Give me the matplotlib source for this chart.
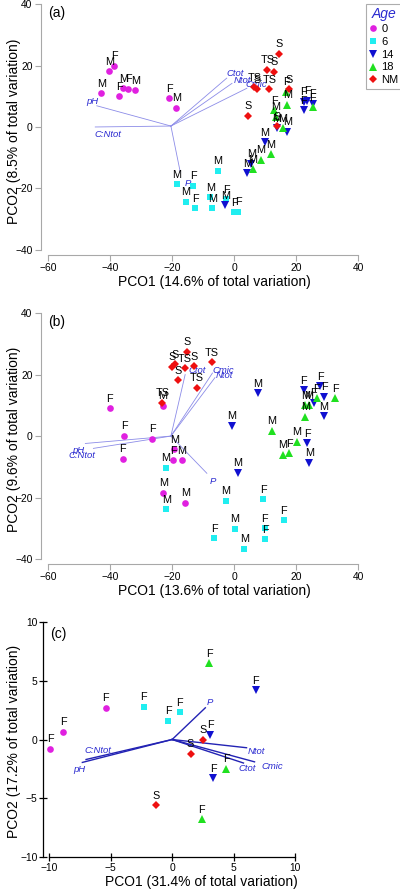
import matplotlib
matplotlib.use("Agg")
import matplotlib.pyplot as plt
from matplotlib.lines import Line2D

plt.rcParams['font.family'] = ['Liberation Sans', 'DejaVu Sans']

# ---- panel (a) ----
x0a = [-42.9, -40.3, -38.7, -37.1, -35.8, -34.2, -31.9, -21.0, -18.7]
y0a = [11.0, 18.2, 19.9, 10.1, 12.7, 12.4, 12.0, 9.4, 6.2]
l0a = ['M', 'M', 'F', 'F', 'M', 'F', 'M', 'F', 'M']
x6a = [-18.4, -13.2, -15.5, -12.6, -5.2, -7.7, -7.1, -2.6, 0.0, 1.4]
y6a = [-18.6, -19.2, -24.4, -26.4, -14.3, -22.9, -26.5, -23.5, -27.8, -27.6]
l6a = ['M', 'F', 'M', 'F', 'M', 'M', 'M', 'F', 'F', 'F']
x14a = [-2.9, 4.2, 5.5, 9.8, 17.2, 13.8, 22.4, 23.6, 22.4, 25.3]
y14a = [-25.4, -15.0, -12.0, -5.0, -1.5, -0.4, 8.2, 8.5, 5.5, 7.5]
l14a = ['M', 'M', 'M', 'M', 'M', 'M', 'F', 'F', 'F', 'F']
x18a = [6.1, 8.7, 11.9, 12.9, 13.5, 15.6, 16.8, 17.2, 25.3]
y18a = [-13.7, -10.7, -8.8, 5.5, 3.4, -0.4, 11.5, 7.2, 6.4]
l18a = ['M', 'M', 'M', 'F', 'M', 'M', 'F', 'M', 'F']
xNMa = [14.5, 10.7, 12.9, 6.5, 7.3, 11.4, 17.8, 4.6, 13.8]
yNMa = [23.8, 18.6, 18.0, 12.9, 12.3, 12.3, 12.3, 3.6, 0.3]
lNMa = ['S', 'TS', 'S', 'TS', 'S', 'TS', 'S', 'S', 'S']

vec_names = ['pH', 'C:Ntot', 'P', 'Ctot', 'Ntot', 'Cmic']
vec_orig_a = (-20.4, 0.3)
vec_x_a = [-44.3, -44.8, -17.4, -2.4, -0.7, 4.1]
vec_y_a = [6.9, 0.0, -14.6, 15.9, 14.2, 12.6]

# ---- panel (b) ----
x0b = [-40.2, -23.0, -35.5, -26.5, -35.9, -19.3, -19.6, -16.9, -22.8, -15.8]
y0b = [9.0, 9.8, 0.1, -0.8, -7.3, -4.2, -7.8, -7.8, -18.4, -21.7]
l0b = ['F', 'M', 'F', 'F', 'F', 'M', 'F', 'M', 'M', 'M']
x6b = [-22.0, -21.9, -2.7, -6.5, 0.3, 3.3, 9.4, 9.8, 10.0, 16.0]
y6b = [-10.3, -23.7, -21.0, -33.3, -30.1, -36.6, -20.5, -30.0, -33.6, -27.3]
l6b = ['M', 'M', 'M', 'F', 'M', 'M', 'F', 'F', 'F', 'F']
x14b = [7.6, -0.7, 1.2, 23.6, 24.3, 22.4, 27.7, 29.0, 25.6, 29.0]
y14b = [13.9, 3.3, -11.9, -2.4, -8.7, 15.0, 16.3, 12.8, 10.8, 6.5]
l14b = ['M', 'M', 'M', 'F', 'M', 'F', 'F', 'F', 'F', 'M']
x18b = [12.2, 20.3, 15.7, 17.8, 32.6, 22.9, 24.0, 26.7, 22.9]
y18b = [1.7, -1.9, -6.0, -5.6, 12.3, 10.1, 10.1, 12.3, 6.3]
l18b = ['M', 'M', 'M', 'F', 'F', 'M', 'M', 'F', 'M']
xNMb = [-23.2, -18.0, -15.3, -16.0, -20.1, -19.0, -12.8, -7.2, -12.0]
yNMb = [10.8, 18.2, 27.4, 22.0, 22.5, 23.4, 22.8, 24.0, 15.7]
lNMb = ['TS', 'S', 'S', 'TS', 'S', 'S', 'S', 'TS', 'TS']

vec_orig_b = (-20.4, 0.0)
vec_x_b = [-48.0, -45.4, -8.8, -15.8, -6.2, -7.0]
vec_y_b = [-2.4, -4.0, -12.1, 20.0, 19.0, 20.5]

# ---- panel (c) ----
x0c = [-5.4, -8.85, -9.9]
y0c = [2.7, 0.66, -0.8]
l0c = ['F', 'F', 'F']
x6c = [-2.3, -0.3, 0.6]
y6c = [2.8, 1.6, 2.3]
l6c = ['F', 'F', 'F']
x14c = [6.8, 3.1, 3.35]
y14c = [4.2, 0.4, -3.3]
l14c = ['F', 'F', 'F']
x18c = [3.0, 4.4, 2.4]
y18c = [6.5, -2.5, -6.8]
l18c = ['F', 'F', 'F']
xNMc = [2.5, 1.5, -1.3]
yNMc = [0.0, -1.2, -5.6]
lNMc = ['S', 'S', 'S']

vec_orig_c = (0.0, 0.0)
vec_x_c = [-7.3, -7.0, 2.7, 5.8, 6.05, 6.7]
vec_y_c = [-1.95, -1.7, 2.7, -2.0, -0.7, -1.9]

ages = ['0', '6', '14', '18', 'NM']
colors = ['#e020e0', '#20eef0', '#1010d0', '#20e020', '#ee1010']
markers = ['o', 's', 'v', '^', 'D']
msizes = [4.8, 4.4, 5.2, 5.2, 4.0]

# label offsets (points) for vector names, per panel
off_a = {'pH': (-3, 3.4), 'C:Ntot': (9.4, -5.3), 'P': (5.8, -8.1),
         'Ctot': (6, 3.1), 'Ntot': (7.3, 2.4), 'Cmic': (6.7, 2.4)}
off_b = {'pH': (-5, -4.8), 'C:Ntot': (-8.1, -5.3), 'P': (4.5, -5.6),
         'Ctot': (8.4, 2.7), 'Ntot': (6.6, 1.2), 'Cmic': (7.5, 1.7)}
off_c = {'pH': (-2.4, -5.0), 'C:Ntot': (8.7, 6.3), 'P': (3.5, 3.5),
         'Ctot': (2.4, -4.0), 'Ntot': (7.4, -2.9), 'Cmic': (13.0, -3.0)}

W, H = 400, 890
fig = plt.figure(figsize=(W / 100, H / 100), dpi=100)


def add_axes(left, bottom, width, height):
    return fig.add_axes([left / W, (H - bottom) / H, width / W, height / H])


def draw_panel(ax, groups, orig, vx, vy, offs, vcolor, vlw, tag, tagpos):
    ox, oy = orig
    for name, ex, ey in zip(vec_names, vx, vy):
        ax.plot([ox, ex], [oy, ey], color=vcolor, lw=vlw, zorder=1)
        dx, dy = offs[name]
        ax.annotate(name, (ex, ey), xytext=(dx, dy), textcoords='offset points',
                    ha='center', va='center', fontsize=6.8, style='italic',
                    color='#2a2ad0', zorder=2)
    for i, (gx, gy, gl) in enumerate(groups):
        ax.plot(gx, gy, linestyle='none', marker=markers[i], color=colors[i],
                markersize=msizes[i], markeredgewidth=0, zorder=3)
        for x, y, t in zip(gx, gy, gl):
            ax.annotate(t, (x, y), xytext=(0, 3.2), textcoords='offset points',
                        ha='center', va='bottom', fontsize=7.8, zorder=4)
    ax.text(tagpos[0], tagpos[1], tag, fontsize=10, ha='left', va='center')
    for s in ['top', 'right']:
        ax.spines[s].set_visible(False)


def style_ab(ax):
    ax.set_xlim(-62.3, 41.5)
    ax.set_xticks([-60, -40, -20, 0, 20, 40])
    ax.set_yticks([-40, -20, 0, 20, 40])
    ax.spines['left'].set_bounds(-40, 40)
    ax.spines['bottom'].set_bounds(-60, 40)
    for s in ['left', 'bottom']:
        ax.spines[s].set_color('#a8a8a8')
        ax.spines[s].set_linewidth(0.8)
    ax.tick_params(direction='out', length=4, width=0.8, color='#a8a8a8',
                   labelsize=7.4, pad=2)


# panel (a)
axa = add_axes(41, 255, 321.8, 253.3)
draw_panel(axa, [(x0a, y0a, l0a), (x6a, y6a, l6a), (x14a, y14a, l14a),
                 (x18a, y18a, l18a), (xNMa, yNMa, lNMa)],
           vec_orig_a, vec_x_a, vec_y_a, off_a, '#8c8ce8', 0.6, '(a)', (-60, 37))
style_ab(axa)
axa.set_ylim(-41.7, 40.8)
axa.set_xlabel('PCO1 (14.6% of total variation)', fontsize=10)
axa.set_ylabel('PCO2 (8.5% of total variation)', fontsize=10)
axa.xaxis.set_label_coords((214 - 41) / 321.8, -20 / 253.3)
axa.yaxis.set_label_coords((21 - 41) / 321.8, 0.49)

# panel (b)
axb = add_axes(41, 564, 321.8, 254.0)
draw_panel(axb, [(x0b, y0b, l0b), (x6b, y6b, l6b), (x14b, y14b, l14b),
                 (x18b, y18b, l18b), (xNMb, yNMb, lNMb)],
           vec_orig_b, vec_x_b, vec_y_b, off_b, '#8c8ce8', 0.6, '(b)', (-60, 37))
style_ab(axb)
axb.set_ylim(-41.6, 41.0)
axb.set_xlabel('PCO1 (13.6% of total variation)', fontsize=10)
axb.set_ylabel('PCO2 (9.6% of total variation)', fontsize=10)
axb.xaxis.set_label_coords((214 - 41) / 321.8, -20 / 254.0)
axb.yaxis.set_label_coords((21 - 41) / 321.8, 0.49)

# panel (c)
axc = add_axes(43, 857, 255.8, 238.5)
draw_panel(axc, [(x0c, y0c, l0c), (x6c, y6c, l6c), (x14c, y14c, l14c),
                 (x18c, y18c, l18c), (xNMc, yNMc, lNMc)],
           vec_orig_c, vec_x_c, vec_y_c, off_c, '#2323b4', 1.0, '(c)', (-9.9, 9.0))
axc.set_xlim(-10.5, 10.3)
axc.set_ylim(-10, 10.3)
axc.set_xticks([-10, -5, 0, 5, 10])
axc.set_yticks([-10, -5, 0, 5, 10])
axc.spines['left'].set_bounds(-10, 10)
axc.spines['bottom'].set_bounds(-10, 10)
for s in ['left', 'bottom']:
    axc.spines[s].set_linewidth(0.9)
axc.tick_params(direction='inout', length=6, width=0.9, labelsize=7.4, pad=1)
axc.set_xlabel('PCO1 (31.4% of total variation)', fontsize=10)
axc.set_ylabel('PCO2 (17.2% of total variation)', fontsize=10)
axc.xaxis.set_label_coords((201 - 43) / 255.8, -18 / 238.5)
axc.yaxis.set_label_coords((21 - 43) / 255.8, 0.486)

# legend
handles = [Line2D([], [], linestyle='none', marker=m, color=c, markersize=ms,
                  markeredgewidth=0)
           for m, c, ms in zip(markers, colors, msizes)]
leg = fig.legend(handles, ages, title='Age', loc='upper left',
                 bbox_to_anchor=(366 / W, 1 - 4 / H), frameon=True, fancybox=False,
                 edgecolor='#999999', fontsize=8, handlelength=0.6,
                 handletextpad=0.5, borderpad=0.3, labelspacing=0.25,
                 borderaxespad=0)
leg.get_frame().set_linewidth(0.8)
leg.get_title().set_color('#2a2ad0')
leg.get_title().set_style('italic')
leg.get_title().set_fontsize(10)

fig.savefig('out.png', dpi=100)
